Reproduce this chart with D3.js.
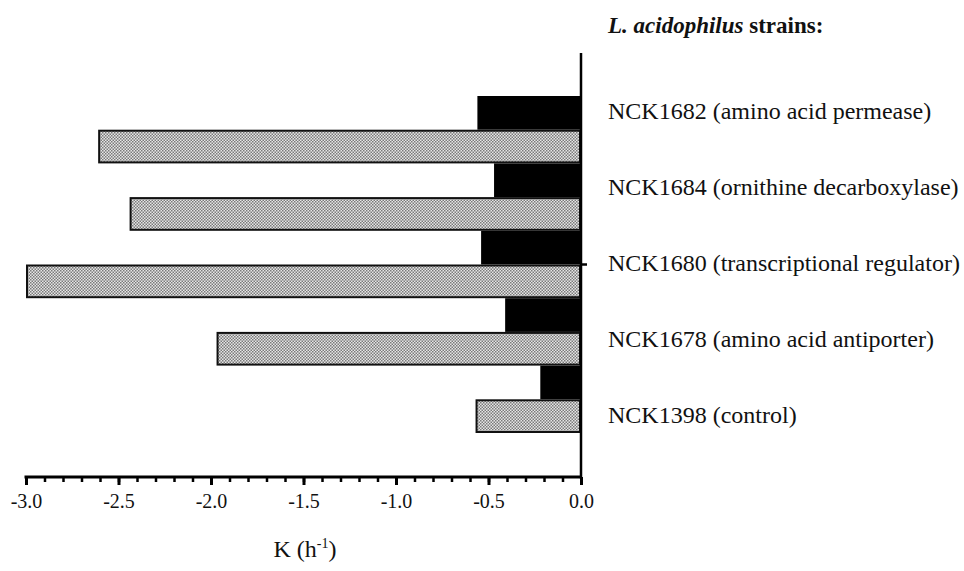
<!DOCTYPE html>
<html>
<head>
<meta charset="utf-8">
<script src="https://cdn.jsdelivr.net/npm/d3@7"></script>
<style>
  body { margin: 0; background: #fff; }
  svg { display: block; }
</style>
</head>
<body>
<div id="svg-container"></div>
<script>
// data
const strains = [
  "NCK1682 (amino acid permease)",
  "NCK1684 (ornithine decarboxylase)",
  "NCK1680 (transcriptional regulator)",
  "NCK1678 (amino acid antiporter)",
  "NCK1398 (control)"
];
const blackValues = [-0.56, -0.47, -0.54, -0.41, -0.22];
const grayValues = [-2.61, -2.44, -3.0, -1.97, -0.57];
const majorTicks = [-3.0, -2.5, -2.0, -1.5, -1.0, -0.5, 0.0];

const serif = "Liberation Serif";
const width = 964;
const height = 571;

const svg = d3.select("#svg-container").append("svg")
  .attr("width", width)
  .attr("height", height);

// checker pattern for the grey bars
const defs = svg.append("defs");
const pat = defs.append("pattern")
  .attr("id", "checker")
  .attr("width", 3)
  .attr("height", 3)
  .attr("patternUnits", "userSpaceOnUse");
pat.append("rect").attr("width", 3).attr("height", 3).attr("fill", "#e6e6e6");
pat.append("rect").attr("width", 1.5).attr("height", 1.5).attr("fill", "#7a7a7a");
pat.append("rect").attr("x", 1.5).attr("y", 1.5).attr("width", 1.5).attr("height", 1.5).attr("fill", "#7a7a7a");

// scales
const x = d3.scaleLinear().domain([-3.0, 0.0]).range([26, 581]);
const y = d3.scaleBand().domain(strains).range([96, 433]).padding(0);
const ySub = d3.scaleBand().domain(["black", "gray"]).range([0, y.bandwidth()]);
const yLabel = d3.scalePoint().domain(strains).range([119, 423]); // baselines

const rows = strains.map((s, i) => ({ strain: s, black: blackValues[i], gray: grayValues[i] }));

// bars
const g = svg.append("g");
g.selectAll(".bar-black")
  .data(rows)
  .enter()
  .append("rect")
  .attr("class", "bar-black")
  .attr("x", (d) => x(d.black))
  .attr("y", (d) => y(d.strain) + ySub("black"))
  .attr("width", (d) => x(0) - x(d.black))
  .attr("height", ySub.bandwidth())
  .attr("fill", "#000");

g.selectAll(".bar-gray")
  .data(rows)
  .enter()
  .append("rect")
  .attr("class", "bar-gray")
  .attr("x", (d) => x(d.gray) + 1)
  .attr("y", (d) => y(d.strain) + ySub("gray") + 1)
  .attr("width", (d) => x(0) - x(d.gray) - 2)
  .attr("height", ySub.bandwidth() - 2)
  .attr("fill", "url(#checker)")
  .attr("stroke", "#111")
  .attr("stroke-width", 2);

// x axis
const axisY = 477;
const xAxisMinor = d3.axisBottom(x)
  .tickValues(d3.range(-30, 1).map((d) => d / 10))
  .tickSize(5)
  .tickFormat("");
const xAxis = d3.axisBottom(x)
  .tickValues(majorTicks)
  .tickSize(8)
  .tickPadding(9)
  .tickFormat(d3.format(".1f"));

svg.append("g")
  .attr("transform", `translate(0,${axisY})`)
  .call(xAxisMinor)
  .call((s) => s.select(".domain").remove())
  .call((s) => s.selectAll("line").attr("stroke", "#000").attr("stroke-width", 2.5));

const xg = svg.append("g")
  .attr("class", "x-axis")
  .attr("transform", `translate(0,${axisY})`)
  .call(xAxis);
xg.select(".domain").remove();
xg.attr("font-family", serif);
xg.selectAll("line").attr("stroke", "#000").attr("stroke-width", 3);
xg.selectAll("text")
  .attr("font-family", serif)
  .attr("font-size", 20)
  .attr("fill", "#111")
  .text((d) => d3.format(".1f")(d).replace("−", "-"));

svg.append("line")
  .attr("x1", x(-3.0) - 1.5).attr("x2", x(0))
  .attr("y1", axisY).attr("y2", axisY)
  .attr("stroke", "#000").attr("stroke-width", 3);

// y axis (vertical line at 0)
svg.append("line")
  .attr("x1", x(0)).attr("x2", x(0))
  .attr("y1", 53).attr("y2", axisY + 1.5)
  .attr("stroke", "#000").attr("stroke-width", 2.5);

// single tick on y axis at middle strain
svg.append("line")
  .attr("x1", x(0)).attr("x2", x(0) + 6)
  .attr("y1", y(strains[2]) + y.bandwidth() / 2)
  .attr("y2", y(strains[2]) + y.bandwidth() / 2)
  .attr("stroke", "#000").attr("stroke-width", 2.5);

// strain labels
svg.selectAll(".strain-label")
  .data(strains)
  .enter()
  .append("text")
  .attr("class", "strain-label")
  .attr("x", 608)
  .attr("y", (d) => yLabel(d))
  .attr("font-family", serif)
  .attr("font-size", 24)
  .attr("fill", "#111")
  .text((d) => d);

// legend title
const title = svg.append("text")
  .attr("x", 608)
  .attr("y", 33)
  .attr("font-family", serif)
  .attr("font-size", 23)
  .attr("font-weight", "bold")
  .attr("fill", "#111");
title.append("tspan").attr("font-style", "italic").text("L. acidophilus");
title.append("tspan").text(" strains:");

// x axis title
const xt = svg.append("text")
  .attr("x", 305)
  .attr("y", 557)
  .attr("text-anchor", "middle")
  .attr("font-family", serif)
  .attr("font-size", 24)
  .attr("fill", "#111");
xt.append("tspan").text("K (h");
xt.append("tspan").attr("font-size", 14).attr("dy", -9).text("-1");
xt.append("tspan").attr("dy", 9).text(")");
</script>
</body>
</html>
